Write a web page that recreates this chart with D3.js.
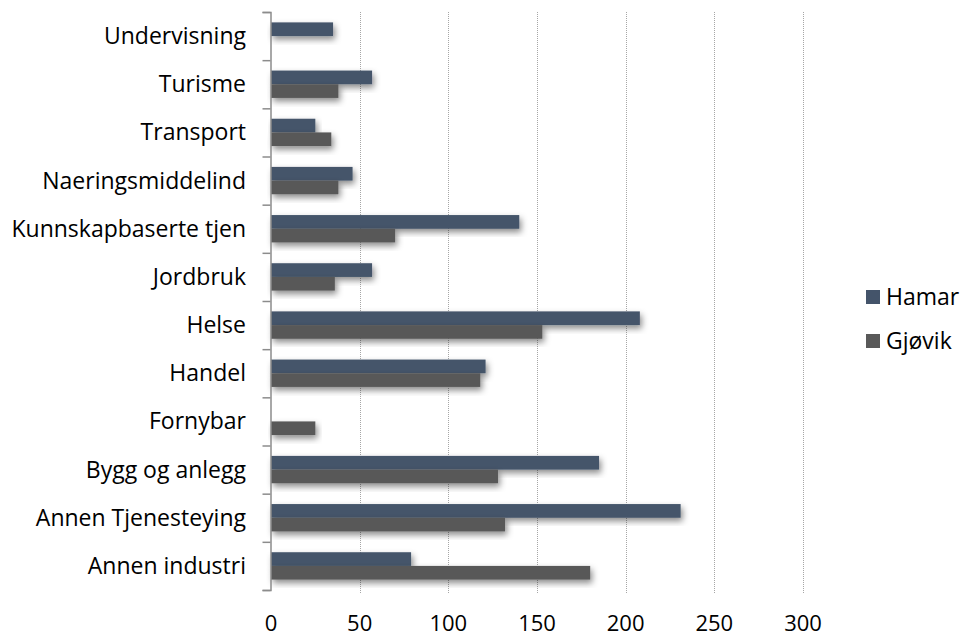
<!DOCTYPE html>
<html>
<head>
<meta charset="utf-8">
<script src="https://cdn.jsdelivr.net/npm/d3@7"></script>
<style>
  body { margin: 0; background: #fff; }
  text { font-family: "Open Sans", sans-serif; fill: #000; }
</style>
</head>
<body>
<div id="chart"></div>
<script>
// Kategorier (ovenfra og ned)
const categories = ["Undervisning", "Turisme", "Transport", "Naeringsmiddelind", "Kunnskapbaserte tjen",
    "Jordbruk", "Helse", "Handel", "Fornybar", "Bygg og anlegg", "Annen Tjenesteying", "Annen industri"];
const hamar = [35, 57, 25, 46, 140, 57, 208, 121, 0, 185, 231, 79];
const gjovik = [0, 38, 34, 38, 70, 36, 153, 118, 25, 128, 132, 180];
const seriesNames = ["Hamar", "Gjøvik"];
const seriesColors = ["#44546a", "#595959"];
const xTicks = [0, 50, 100, 150, 200, 250, 300];

const width = 962, height = 637;
const plot = { left: 271, right: 803, top: 12, bottom: 590 };

const svg = d3.select("#chart").append("svg")
    .attr("width", width)
    .attr("height", height);

// skygge under søylene
const defs = svg.append("defs");
const f = defs.append("filter").attr("id", "shadow")
    .attr("x", "-5%").attr("y", "-30%").attr("width", "120%").attr("height", "190%");
f.append("feDropShadow").attr("dx", 2).attr("dy", 3.5).attr("stdDeviation", 3)
    .attr("flood-color", "#000").attr("flood-opacity", 0.45);

const x = d3.scaleLinear().domain([0, 300]).range([plot.left, plot.right]);
const y = d3.scaleBand().domain(categories).range([plot.top, plot.bottom]);
const inner = d3.scaleBand().domain(seriesNames).range([0, y.bandwidth()]).paddingOuter(0.76).paddingInner(0);

// Gitterlinjer
svg.append("g").selectAll("line")
    .data(xTicks.filter(d => d > 0))
    .enter().append("line")
    .attr("x1", d => Math.round(x(d)) + 0.5)
    .attr("x2", d => Math.round(x(d)) + 0.5)
    .attr("y1", plot.top)
    .attr("y2", plot.bottom + 3)
    .attr("stroke", "#a6a6a6")
    .attr("stroke-width", 1)
    .attr("stroke-dasharray", "1,1");

// Søyler
const rows = categories.map((c, i) => ({ c, vals: [hamar[i], gjovik[i]] }));
const g = svg.append("g");
rows.forEach(r => {
    r.vals.forEach((v, j) => {
        if (!v) return;
        g.append("rect")
            .attr("x", x(0))
            .attr("y", y(r.c) + inner(seriesNames[j]))
            .attr("width", x(v) - x(0))
            .attr("height", inner.bandwidth())
            .attr("fill", seriesColors[j])
            .attr("filter", "url(#shadow)");
    });
});

// Y-akse
const yAxis = d3.axisLeft(d3.scaleLinear().domain([0, categories.length]).range([plot.top, plot.bottom]))
    .tickValues(d3.range(categories.length + 1))
    .tickSize(8)
    .tickFormat("");
const ya = svg.append("g")
    .attr("transform", `translate(${plot.left - 0.5},0)`)
    .call(yAxis);
ya.selectAll("path, line").attr("stroke", "#8c8c8c").attr("stroke-width", 1.5);

// Kategorietiketter
svg.append("g").selectAll("text")
    .data(categories)
    .enter().append("text")
    .attr("x", 246)
    .attr("y", d => y(d) + y.bandwidth() / 2)
    .attr("dy", "0.35em")
    .attr("text-anchor", "end")
    .style("font-size", "23px")
    .text(d => d);

// X-etiketter
svg.append("g").selectAll("text")
    .data(xTicks)
    .enter().append("text")
    .attr("x", d => x(d))
    .attr("y", 631)
    .attr("text-anchor", "middle")
    .style("font-size", "22px")
    .text(d => d);

// Tegnforklaring
const legend = svg.append("g");
seriesNames.forEach((s, i) => {
    const ly = 297 + i * 44;
    legend.append("rect")
        .attr("x", 866).attr("y", ly - 7)
        .attr("width", 14).attr("height", 14)
        .attr("fill", seriesColors[i]);
    legend.append("text")
        .attr("x", 886).attr("y", ly)
        .attr("dy", "0.35em")
        .style("font-size", "23px")
        .text(s);
});
</script>
</body>
</html>
